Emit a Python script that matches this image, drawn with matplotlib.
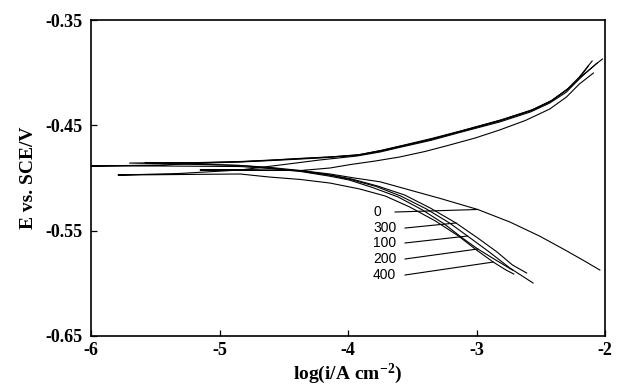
import numpy as np
import matplotlib
matplotlib.use("Agg")
import matplotlib.pyplot as plt

# Tafel curves, log(i) vs E, for inhibitor concentrations 0..400
conc = ["0", "100", "200", "300", "400"]

# anodic branches (log i, E)
an_logi_0 = [-5.15, -4.84, -4.37, -4.14, -3.98, -3.79, -3.60, -3.40, -3.21, -3.01, -2.82, -2.62, -2.43, -2.30, -2.20, -2.09]
an_E_0 = [-0.4924, -0.4924, -0.4929, -0.4905, -0.4872, -0.4839, -0.4801, -0.4748, -0.4687, -0.4620, -0.4544, -0.4454, -0.4345, -0.4231, -0.4108, -0.4003]
an_logi_100 = [-5.70, -5.15, -4.83, -4.59, -4.36, -4.13, -3.91, -3.74, -3.58, -3.35, -3.11, -2.80, -2.56, -2.41, -2.27, -2.16, -2.07, -2.02]
an_E_100 = [-0.4858, -0.4853, -0.4843, -0.4829, -0.4813, -0.4799, -0.4778, -0.4737, -0.4692, -0.4625, -0.4549, -0.4445, -0.4350, -0.4260, -0.4136, -0.4013, -0.3918, -0.3870]
an_logi_200 = [-6.00, -5.46, -5.15, -4.84, -4.61, -4.37, -4.14, -3.93, -3.75, -3.60, -3.36, -3.13, -2.82, -2.58, -2.43, -2.30, -2.20, -2.10]
an_E_200 = [-0.4886, -0.4877, -0.4860, -0.4848, -0.4835, -0.4820, -0.4804, -0.4785, -0.4746, -0.4704, -0.4637, -0.4561, -0.4459, -0.4364, -0.4279, -0.4165, -0.4041, -0.3889]
an_logi_300 = [-5.58, -5.15, -4.84, -4.61, -4.37, -4.14, -3.93, -3.75, -3.60, -3.36, -3.13, -2.82, -2.58, -2.42, -2.28, -2.17, -2.06]
an_E_300 = [-0.4853, -0.4856, -0.4846, -0.4832, -0.4816, -0.4801, -0.4782, -0.4742, -0.4700, -0.4634, -0.4558, -0.4454, -0.4359, -0.4269, -0.4146, -0.4022, -0.3908]
an_logi_400 = [-5.79, -5.31, -4.84, -4.53, -4.22, -3.93, -3.75, -3.60, -3.36, -3.13, -2.82, -2.58, -2.43, -2.30, -2.21, -2.13]
an_E_400 = [-0.4972, -0.4957, -0.4924, -0.4877, -0.4829, -0.4791, -0.4753, -0.4710, -0.4644, -0.4568, -0.4468, -0.4373, -0.4288, -0.4184, -0.4070, -0.3937]

# cathodic branches (log i, E)
ca_logi_0 = [-5.15, -4.84, -4.37, -4.14, -3.95, -3.75, -3.52, -3.28, -2.99, -2.74, -2.51, -2.31, -2.16, -2.04]
ca_E_0 = [-0.4924, -0.4924, -0.4929, -0.4962, -0.5000, -0.5036, -0.5114, -0.5195, -0.5299, -0.5418, -0.5551, -0.5684, -0.5788, -0.5874]
ca_logi_100 = [-5.70, -5.15, -4.84, -4.61, -4.37, -4.13, -3.98, -3.78, -3.59, -3.39, -3.21, -3.07, -2.90, -2.74, -2.56]
ca_E_100 = [-0.4858, -0.4872, -0.4881, -0.4905, -0.4934, -0.4976, -0.5014, -0.5081, -0.5171, -0.5294, -0.5427, -0.5551, -0.5703, -0.5855, -0.5997]
ca_logi_200 = [-6.00, -5.46, -4.84, -4.61, -4.37, -4.15, -3.99, -3.81, -3.61, -3.42, -3.25, -3.11, -2.99, -2.85, -2.72]
ca_E_200 = [-0.4886, -0.4886, -0.4891, -0.4910, -0.4938, -0.4981, -0.5019, -0.5090, -0.5180, -0.5304, -0.5437, -0.5570, -0.5674, -0.5779, -0.5874]
ca_logi_300 = [-5.58, -5.15, -4.84, -4.60, -4.37, -4.13, -3.97, -3.77, -3.56, -3.36, -3.16, -2.99, -2.84, -2.72, -2.61]
ca_E_300 = [-0.4853, -0.4867, -0.4881, -0.4900, -0.4929, -0.4972, -0.5010, -0.5076, -0.5161, -0.5285, -0.5427, -0.5570, -0.5703, -0.5826, -0.5902]
ca_logi_400 = [-5.79, -4.84, -4.61, -4.37, -4.14, -3.91, -3.71, -3.52, -3.32, -3.14, -3.00, -2.87, -2.77, -2.71]
ca_E_400 = [-0.4972, -0.4962, -0.4991, -0.5014, -0.5048, -0.5104, -0.5171, -0.5275, -0.5408, -0.5551, -0.5684, -0.5798, -0.5874, -0.5912]

xticks = [-6, -5, -4, -3, -2]
xtick_labels = ["-6", "-5", "-4", "-3", "-2"]
yticks = [-0.35, -0.45, -0.55, -0.65]
ytick_labels = ["-0.35", "-0.45", "-0.55", "-0.65"]

# label order top to bottom, with the potential where each leader meets its curve
label_order = ["0", "300", "100", "200", "400"]
label_E = [-0.5323, -0.5475, -0.5617, -0.5769, -0.5921]
leader_E = [-0.5299, -0.5427, -0.5551, -0.5674, -0.5798]

curves = {
    "0": (an_logi_0, an_E_0, ca_logi_0, ca_E_0),
    "100": (an_logi_100, an_E_100, ca_logi_100, ca_E_100),
    "200": (an_logi_200, an_E_200, ca_logi_200, ca_E_200),
    "300": (an_logi_300, an_E_300, ca_logi_300, ca_E_300),
    "400": (an_logi_400, an_E_400, ca_logi_400, ca_E_400),
}

plt.rcParams["axes.unicode_minus"] = False
plt.rcParams["mathtext.fontset"] = "custom"
plt.rcParams["mathtext.rm"] = "Liberation Serif:bold"
plt.rcParams["mathtext.it"] = "Liberation Serif:bold"
plt.rcParams["mathtext.bf"] = "Liberation Serif:bold"

fig = plt.figure(figsize=(6.22, 3.91), dpi=100)
ax = fig.add_axes([0.1463, 0.1407, 0.8264, 0.8081])

for c in conc:
    al, ae, cl, ce = curves[c]
    x = np.concatenate([al[::-1], cl[1:]])
    y = np.concatenate([ae[::-1], ce[1:]])
    ax.plot(x, y, color="black", lw=0.8)

# labels with leader lines
for name, le, te in zip(label_order, label_E, leader_E):
    al, ae, cl, ce = curves[name]
    # cathodic E decreases, so flip for interp
    xt = np.interp(te, ce[::-1], cl[::-1])
    ax.text(-3.805, le, name, ha="left", va="center", fontsize=10,
            family="Liberation Sans")
    xs = -3.634 if name == "0" else -3.556
    ax.plot([xs, xt], [le, te], color="black", lw=0.8)

ax.set_xlim(-6, -2)
ax.set_ylim(-0.65, -0.35)
ax.set_xticks(xticks)
ax.set_xticklabels(xtick_labels)
ax.set_yticks(yticks)
ax.set_yticklabels(ytick_labels)
ax.tick_params(direction="in", length=4, width=0.9, color="black")
ax.tick_params(axis="y", pad=6)
ax.tick_params(axis="x", pad=4)
for lab in ax.get_xticklabels() + ax.get_yticklabels():
    lab.set_family("Liberation Serif")
    lab.set_fontweight("bold")
    lab.set_fontsize(13)
for sp in ax.spines.values():
    sp.set_linewidth(1.2)

ax.set_xlabel("log(i/A cm$^{-2}$)", family="Liberation Serif", fontweight="bold",
              fontsize=14, labelpad=2)
ax.set_ylabel("E vs. SCE/V", family="Liberation Serif", fontweight="bold",
              fontsize=14, labelpad=6)

fig.savefig("out.png", dpi=100)
